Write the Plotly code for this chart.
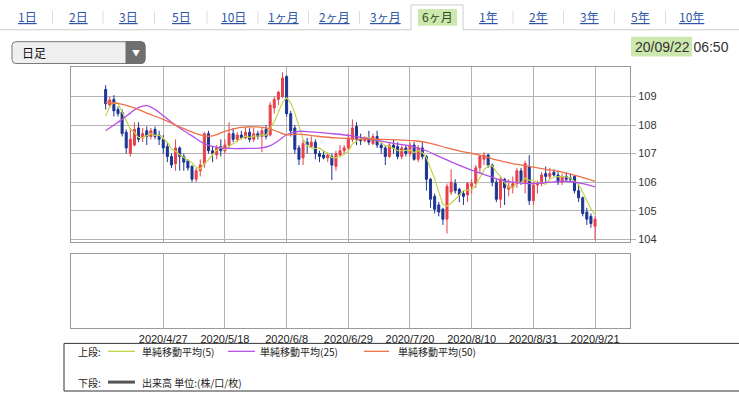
import plotly.graph_objects as go
import pandas as pd

W, H = 739, 396

# ---------------- data ----------------
dates = pd.bdate_range("2020-04-07", "2020-09-21").strftime("%Y-%m-%d").tolist()

opens = [109.25, 108.70, 108.90, 108.55, 108.45, 107.75, 107.00, 107.30, 107.90, 107.55,
         107.80, 107.60, 107.85, 107.65, 107.50, 107.25, 106.90, 106.65, 107.20, 106.90,
         106.75, 106.55, 106.10, 106.40, 106.65, 107.70, 107.10, 106.95, 107.25, 107.10,
         107.30, 107.70, 107.50, 107.65, 107.55, 107.75, 107.50, 107.70, 107.60, 107.85,
         107.65, 108.60, 108.90, 109.00, 109.70, 108.40, 107.90, 107.20, 106.85, 107.40,
         107.25, 107.40, 107.00, 106.95, 106.85, 106.90, 106.55, 106.95, 107.10, 107.20,
         107.50, 107.95, 107.50, 107.45, 107.55, 107.35, 107.60, 107.30, 107.20, 106.90,
         107.30, 107.25, 106.90, 107.20, 107.00, 107.30, 106.80, 107.20, 106.90, 106.10,
         105.50, 105.20, 105.05, 104.70, 105.65, 105.95, 105.75, 105.60, 105.55, 105.85,
         105.95, 106.50, 106.80, 106.95, 106.60, 106.00, 105.40, 106.10, 105.75, 105.80,
         105.95, 106.40, 106.00, 106.55, 105.35, 105.90, 105.95, 106.30, 106.20, 106.35,
         106.25, 106.00, 106.20, 106.15, 106.20, 105.70, 105.45, 104.95, 104.80, 104.45]
highs = [109.40, 109.00, 109.05, 108.65, 108.55, 107.85, 107.90, 108.10, 108.10, 107.90,
         107.95, 107.90, 107.95, 107.80, 107.65, 107.40, 107.00, 107.50, 107.25, 107.00,
         106.80, 106.60, 106.50, 106.80, 107.75, 107.80, 107.25, 107.30, 107.50, 107.50,
         108.10, 107.90, 107.75, 107.80, 107.90, 107.90, 107.90, 107.80, 107.90, 108.00,
         108.80, 109.00, 109.20, 109.85, 109.75, 108.50, 108.00, 107.30, 107.50, 107.55,
         107.60, 107.50, 107.10, 107.10, 107.00, 107.00, 107.10, 107.30, 107.30, 107.70,
         108.20, 108.10, 107.70, 107.60, 107.80, 107.70, 107.80, 107.40, 107.30, 107.40,
         107.50, 107.40, 107.30, 107.30, 107.40, 107.40, 107.30, 107.40, 106.95, 106.15,
         105.60, 105.30, 105.10, 105.95, 106.45, 106.10, 105.80, 105.70, 106.00, 106.10,
         106.60, 106.95, 107.05, 107.00, 106.65, 106.10, 106.20, 106.15, 106.10, 106.20,
         106.50, 106.50, 106.75, 106.95, 106.00, 106.05, 106.35, 106.55, 106.50, 106.45,
         106.40, 106.30, 106.35, 106.30, 106.25, 105.90, 105.50, 105.10, 104.90, 104.80]
lows = [108.55, 108.60, 108.30, 108.30, 107.60, 107.00, 106.90, 107.25, 107.40, 107.40,
        107.30, 107.50, 107.50, 107.30, 107.00, 106.70, 106.50, 106.40, 106.40, 106.40,
        106.40, 106.00, 106.00, 106.20, 106.50, 107.00, 106.70, 106.80, 106.90, 107.00,
        107.20, 107.40, 107.40, 107.50, 107.50, 107.40, 107.40, 107.50, 107.05, 107.50,
        107.60, 108.40, 108.70, 108.95, 108.30, 107.60, 107.00, 106.60, 106.60, 107.00,
        107.20, 106.80, 106.70, 106.80, 106.70, 106.07, 106.40, 106.90, 107.00, 107.10,
        107.40, 107.30, 107.30, 107.40, 107.30, 107.30, 107.20, 107.00, 106.60, 106.85,
        107.00, 106.80, 106.80, 106.90, 106.90, 106.75, 106.70, 106.80, 105.70, 105.10,
        104.90, 104.80, 104.50, 104.20, 105.55, 105.60, 105.30, 105.20, 105.30, 105.60,
        105.80, 106.30, 106.60, 106.50, 105.85, 105.30, 105.10, 105.20, 105.50, 105.60,
        105.80, 105.90, 105.60, 105.20, 105.20, 105.60, 105.85, 106.00, 106.10, 106.20,
        105.90, 105.90, 106.00, 106.00, 105.60, 105.30, 104.80, 104.50, 104.40, 103.98]
closes = [108.75, 108.88, 108.50, 108.40, 107.70, 107.20, 107.50, 107.85, 107.50, 107.70,
          107.60, 107.80, 107.60, 107.50, 107.20, 106.90, 106.60, 107.20, 106.90, 106.70,
          106.50, 106.10, 106.40, 106.60, 107.70, 107.10, 107.00, 107.20, 107.10, 107.30,
          107.70, 107.50, 107.65, 107.55, 107.75, 107.50, 107.70, 107.60, 107.80, 107.60,
          108.70, 108.90, 109.15, 109.65, 108.40, 107.80, 107.15, 106.80, 107.35, 107.30,
          107.40, 107.00, 106.90, 106.85, 106.95, 106.60, 107.00, 107.10, 107.20, 107.55,
          107.90, 107.50, 107.45, 107.55, 107.40, 107.60, 107.30, 107.20, 106.90, 107.30,
          107.20, 106.90, 107.20, 107.00, 107.30, 106.80, 107.20, 106.90, 106.10, 105.40,
          105.05, 104.95, 104.70, 105.85, 106.00, 105.70, 105.55, 105.50, 105.95, 105.95,
          106.50, 106.90, 106.95, 106.60, 106.00, 105.40, 106.10, 105.80, 105.85, 105.95,
          106.40, 106.00, 106.65, 105.35, 105.90, 105.95, 106.25, 106.20, 106.30, 106.25,
          106.00, 106.20, 106.10, 106.10, 105.70, 105.45, 104.90, 104.70, 104.55, 104.70]

ma5 = [108.32, 108.66, 108.78, 108.76, 108.46, 108.14, 107.86, 107.74, 107.56, 107.56,
       107.64, 107.70, 107.64, 107.64, 107.54, 107.40, 107.16, 107.08, 106.96, 106.86,
       106.78, 106.68, 106.52, 106.46, 106.66, 106.78, 106.96, 107.12, 107.22, 107.14,
       107.26, 107.36, 107.44, 107.53, 107.61, 107.57, 107.61, 107.61, 107.66, 107.64,
       107.88, 108.12, 108.44, 108.80, 108.96, 108.78, 108.42, 107.94, 107.50, 107.28,
       107.20, 107.18, 107.20, 107.09, 107.02, 106.86, 106.86, 106.90, 106.97, 107.08,
       107.34, 107.44, 107.52, 107.58, 107.56, 107.50, 107.46, 107.40, 107.28, 107.26,
       107.18, 107.10, 107.10, 107.12, 107.12, 107.04, 107.10, 107.04, 106.86, 106.48,
       106.12, 105.66, 105.22, 105.16, 105.26, 105.40, 105.54, 105.70, 105.72, 105.73,
       105.89, 106.15, 106.43, 106.57, 106.58, 106.36, 106.20, 105.98, 105.82, 105.80,
       106.00, 105.98, 106.14, 106.06, 106.06, 105.96, 106.00, 105.92, 106.10, 106.18,
       106.20, 106.20, 106.18, 106.14, 106.02, 105.91, 105.65, 105.37, 105.06, 104.86]

ma25_idx = [0, 2, 4, 6, 8, 10, 12, 14, 16, 18, 21, 24, 27, 30, 34, 38, 40, 42, 44, 47,
            50, 55, 60, 64, 70, 74, 78, 81, 85, 89, 93, 96, 100, 104, 108, 112, 116, 119]
ma25_val = [107.80, 108.00, 108.20, 108.42, 108.62, 108.68, 108.55, 108.33, 108.10, 107.90,
            107.62, 107.35, 107.22, 107.18, 107.18, 107.20, 107.28, 107.45, 107.66, 107.78,
            107.76, 107.70, 107.62, 107.52, 107.36, 107.27, 107.10, 106.90, 106.65, 106.42,
            106.22, 106.08, 105.98, 105.95, 106.00, 106.03, 105.95, 105.83]

ma50_idx = [0, 3, 7, 10, 14, 17, 21, 24, 26, 29, 33, 36, 39, 42, 44, 47, 52, 56, 60, 66,
            71, 75, 79, 83, 87, 91, 95, 99, 103, 107, 111, 115, 119]
ma50_val = [108.80, 108.76, 108.60, 108.42, 108.20, 108.00, 107.76, 107.62, 107.62, 107.78,
            107.92, 107.94, 107.90, 107.76, 107.66, 107.68, 107.60, 107.55, 107.52, 107.50,
            107.48, 107.45, 107.36, 107.20, 107.06, 106.95, 106.78, 106.65, 106.55, 106.45,
            106.35, 106.20, 106.03]

tick_dates = ["2020-04-27", "2020-05-18", "2020-06-08", "2020-06-29",
              "2020-07-20", "2020-08-10", "2020-08-31", "2020-09-21"]
tick_text = ["2020/4/27", "2020/5/18", "2020/6/8", "2020/6/29",
             "2020/7/20", "2020/8/10", "2020/8/31", "2020/9/21"]
y_ticks = [104, 105, 106, 107, 108, 109]

tabs = ["1日", "2日", "3日", "5日", "10日", "1ヶ月", "2ヶ月", "3ヶ月", "6ヶ月",
        "1年", "2年", "3年", "5年", "10年"]
tab_x = [27, 78, 128, 181, 233, 283, 334, 385, 437, 488, 538, 589, 640, 691]
selected_tab = "6ヶ月"

legend_items = ["単純移動平均(5)", "単純移動平均(25)", "単純移動平均(50)"]

# ---------------- styles ----------------
RED = "#e8414b"
BLUE = "#1c3592"
C5 = "#c3d44a"
C25 = "#b650e6"
C50 = "#ef7048"
GRID = "#b3b3b3"
BORDER = "#9a9a9a"
FONT = "Liberation Sans, Arial, Noto Sans CJK JP, sans-serif"
JFONT = "Noto Sans CJK JP, Liberation Sans, sans-serif"


def X(p):
    return p / W


def Y(p):
    return 1 - p / H


fig = go.Figure()
fig.add_trace(go.Candlestick(
    x=dates, open=opens, high=highs, low=lows, close=closes,
    increasing=dict(line=dict(color=RED, width=1), fillcolor=RED),
    decreasing=dict(line=dict(color=BLUE, width=1), fillcolor=BLUE),
    whiskerwidth=0, showlegend=False, hoverinfo="skip", xaxis="x", yaxis="y"))
fig.add_trace(go.Scatter(x=dates, y=ma5, mode="lines",
                         line=dict(color=C5, width=1.2), hoverinfo="skip"))
fig.add_trace(go.Scatter(x=[dates[i] for i in ma25_idx], y=ma25_val, mode="lines",
                         line=dict(color=C25, width=1.3, shape="spline", smoothing=1),
                         hoverinfo="skip"))
fig.add_trace(go.Scatter(x=[dates[i] for i in ma50_idx], y=ma50_val, mode="lines",
                         line=dict(color=C50, width=1.3, shape="spline", smoothing=1),
                         hoverinfo="skip"))
# lower (volume) panel: no volume for FX, panel stays empty
fig.add_trace(go.Scatter(x=dates, y=[None] * len(dates), mode="lines",
                         xaxis="x2", yaxis="y2", hoverinfo="skip"))

xr = [-8.5, 127.5]
xdom = [X(70.7), X(630)]
common_x = dict(type="category", categoryorder="array", categoryarray=dates,
                range=xr, domain=xdom, tickmode="array", tickvals=tick_dates,
                showgrid=True, gridcolor=GRID, gridwidth=1, showline=True,
                linecolor=BORDER, linewidth=1, mirror=True, zeroline=False,
                ticks="", fixedrange=True)

fig.update_layout(
    width=W, height=H, margin=dict(l=0, r=0, t=0, b=0),
    paper_bgcolor="white", plot_bgcolor="white", showlegend=False,
    font=dict(family=FONT, size=11, color="#333333"),
    xaxis=dict(common_x, anchor="y", showticklabels=False,
               rangeslider=dict(visible=False)),
    yaxis=dict(domain=[Y(244.3), Y(67.3)], range=[103.885, 110.044], anchor="x",
               side="right", tickmode="array", tickvals=y_ticks,
               showgrid=True, gridcolor=GRID, gridwidth=1, showline=True,
               linecolor=BORDER, mirror=True, zeroline=False, ticks="outside",
               ticklen=5, tickcolor=GRID, tickfont=dict(size=11, color="#333333"),
               fixedrange=True),
    xaxis2=dict(common_x, anchor="y2", ticktext=tick_text, showticklabels=True,
                ticklabelstandoff=1, tickfont=dict(size=11, color="#222222")),
    yaxis2=dict(domain=[Y(330), Y(256)], range=[0, 1], anchor="x2",
                showgrid=False, showticklabels=False, showline=True,
                linecolor=BORDER, mirror=True, zeroline=False, ticks="",
                fixedrange=True),
)

shapes = []
ann = []

# ---- tab bar ----
sel_i = tabs.index(selected_tab)
sel_l, sel_r = 411, 463
shapes.append(dict(type="line", xref="paper", yref="paper", x0=X(0), x1=X(sel_l),
                   y0=Y(30), y1=Y(30), line=dict(color="#cccccc", width=1)))
shapes.append(dict(type="line", xref="paper", yref="paper", x0=X(sel_r), x1=X(739),
                   y0=Y(30), y1=Y(30), line=dict(color="#cccccc", width=1)))
shapes.append(dict(type="path", xref="paper", yref="paper",
                   path=f"M {X(sel_l)},{Y(30)} L {X(sel_l)},{Y(5)} L {X(sel_r)},{Y(5)} L {X(sel_r)},{Y(30)}",
                   line=dict(color="#cccccc", width=1)))
shapes.append(dict(type="rect", xref="paper", yref="paper", x0=X(418), x1=X(457),
                   y0=Y(26), y1=Y(9), fillcolor="#cde8ad", line=dict(width=0),
                   layer="below"))
for i, (t, tx) in enumerate(zip(tabs, tab_x)):
    if i == sel_i:
        ann.append(dict(x=X(tx), y=Y(17), xref="paper", yref="paper", text=t,
                        showarrow=False, xanchor="center", yanchor="middle",
                        font=dict(family=JFONT, size=12, color="#2f4a1c")))
    else:
        ann.append(dict(x=X(tx), y=Y(17), xref="paper", yref="paper",
                        text=f"<u>{t}</u>", showarrow=False, xanchor="center",
                        yanchor="middle",
                        font=dict(family=JFONT, size=12, color="#2d56a8")))
    if i < len(tabs) - 1 and i != sel_i and i + 1 != sel_i:
        sx = (tx + tab_x[i + 1]) / 2
        shapes.append(dict(type="line", xref="paper", yref="paper", x0=X(sx), x1=X(sx),
                           y0=Y(11), y1=Y(24), line=dict(color="#dddddd", width=1)))

# ---- dropdown ----
def rrect(x0, y0, x1, y1, r):
    return (f"M {X(x0 + r)},{Y(y0)} L {X(x1 - r)},{Y(y0)} Q {X(x1)},{Y(y0)} {X(x1)},{Y(y0 + r)} "
            f"L {X(x1)},{Y(y1 - r)} Q {X(x1)},{Y(y1)} {X(x1 - r)},{Y(y1)} "
            f"L {X(x0 + r)},{Y(y1)} Q {X(x0)},{Y(y1)} {X(x0)},{Y(y1 - r)} "
            f"L {X(x0)},{Y(y0 + r)} Q {X(x0)},{Y(y0)} {X(x0 + r)},{Y(y0)} Z")

shapes.append(dict(type="path", xref="paper", yref="paper", path=rrect(12, 42, 145, 64, 4),
                   fillcolor="#efefef", line=dict(color="#7a7a7a", width=1)))
shapes.append(dict(type="path", xref="paper", yref="paper",
                   path=(f"M {X(126)},{Y(42)} L {X(141)},{Y(42)} Q {X(145)},{Y(42)} {X(145)},{Y(46)} "
                         f"L {X(145)},{Y(60)} Q {X(145)},{Y(64)} {X(141)},{Y(64)} L {X(126)},{Y(64)} Z"),
                   fillcolor="#6f6f6f", line=dict(color="#6f6f6f", width=1)))
ann.append(dict(x=X(20), y=Y(53), xref="paper", yref="paper", text="日足", showarrow=False,
                xanchor="left", yanchor="middle", font=dict(family=JFONT, size=12, color="#111111")))
ann.append(dict(x=X(135.5), y=Y(53), xref="paper", yref="paper", text="▼", showarrow=False,
                xanchor="center", yanchor="middle", font=dict(family=JFONT, size=8, color="white")))

# ---- timestamp ----
shapes.append(dict(type="rect", xref="paper", yref="paper", x0=X(631), x1=X(692),
                   y0=Y(57), y1=Y(37), fillcolor="#cde8ad", line=dict(width=0), layer="below"))
ann.append(dict(x=X(633), y=Y(47), xref="paper", yref="paper",
                text="20/09/22 06:50", showarrow=False, xanchor="left", yanchor="middle",
                font=dict(family=FONT, size=14, color="#333333")))

# ---- legend box ----
shapes.append(dict(type="rect", xref="paper", yref="paper", x0=X(64), x1=X(760),
                   y0=Y(394), y1=Y(346), line=dict(color="#333333", width=1)))
ann.append(dict(x=X(76), y=Y(354), xref="paper", yref="paper", text="上段:", showarrow=False,
                xanchor="left", yanchor="middle", font=dict(family=JFONT, size=10, color="#222222")))
ann.append(dict(x=X(76), y=Y(385), xref="paper", yref="paper", text="下段:", showarrow=False,
                xanchor="left", yanchor="middle", font=dict(family=JFONT, size=10, color="#222222")))
leg_line_x = [(108, 135), (228, 255), (364, 389)]
leg_text_x = [140, 258, 396]
for (a, b), tx, lab, col in zip(leg_line_x, leg_text_x, legend_items, [C5, C25, C50]):
    shapes.append(dict(type="line", xref="paper", yref="paper", x0=X(a), x1=X(b),
                       y0=Y(354), y1=Y(354), line=dict(color=col, width=1.3)))
    ann.append(dict(x=X(tx), y=Y(354), xref="paper", yref="paper", text=lab, showarrow=False,
                    xanchor="left", yanchor="middle",
                    font=dict(family=JFONT, size=10, color="#222222")))
shapes.append(dict(type="line", xref="paper", yref="paper", x0=X(108), x1=X(135),
                   y0=Y(385), y1=Y(385), line=dict(color="#555555", width=3)))
ann.append(dict(x=X(140), y=Y(385), xref="paper", yref="paper", text="出来高 単位:(株/口/枚)",
                showarrow=False, xanchor="left", yanchor="middle",
                font=dict(family=JFONT, size=10, color="#222222")))

fig.update_layout(shapes=shapes, annotations=ann)
fig.write_html("out.html", config={"displayModeBar": False, "staticPlot": True},
               post_script="document.body.style.margin='0';document.body.style.overflow='hidden';")
